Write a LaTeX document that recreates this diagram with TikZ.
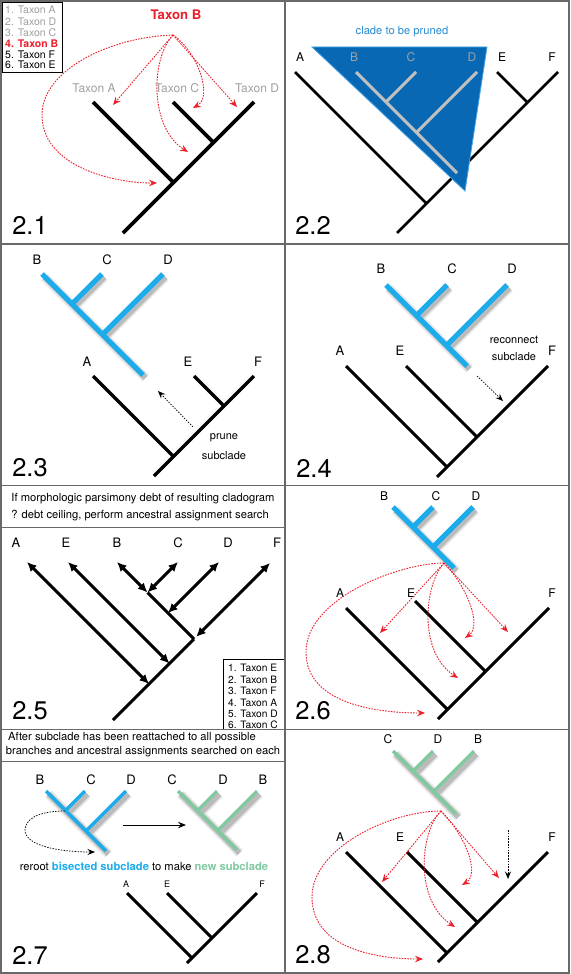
\documentclass[tikz,border=0pt]{standalone}
\usepackage{fontspec}
\setmainfont{TeX Gyre Heros}
\usetikzlibrary{arrows.meta}
\definecolor{framec}{RGB}{105,105,105}
\definecolor{redc}{RGB}{236,32,44}
\definecolor{cyanc}{RGB}{28,172,236}
\definecolor{greenc}{RGB}{128,202,160}
\definecolor{trifill}{RGB}{8,104,180}
\definecolor{triedge}{RGB}{70,165,232}
\definecolor{cladetxt}{RGB}{40,140,210}
\definecolor{graytxt}{RGB}{160,160,160}
\definecolor{graytree}{RGB}{192,192,192}
\newcommand\drawclade[7]{%
  \begin{scope}[transform canvas={shift={(2.5pt,-3pt)}}]
    \draw[shadeA] (#2)--(#3) (#4)--(#5) (#6)--(#7);
    \draw[shadeB] (#2)--(#3) (#4)--(#5) (#6)--(#7);
  \end{scope}
  \draw[#1] (#2)--(#3) (#4)--(#5) (#6)--(#7);}
\begin{document}
\begin{tikzpicture}[x=1pt,y=-1pt,
  frame/.style={draw=framec,line width=1.4pt},
  tree/.style={draw=black,line width=3pt},
  treethick/.style={draw=black,line width=3.8pt},
  bluetree/.style={draw=cyanc,line width=5pt},
  bluethin/.style={draw=cyanc,line width=3.2pt},
  greentree/.style={draw=greenc,line width=3.2pt},
  shadeA/.style={draw=black,opacity=0.10,line width=9pt},
  shadeB/.style={draw=black,opacity=0.18,line width=5.5pt},
  redarr/.style={draw=redc,line width=0.9pt,dash pattern=on 1.6pt off 1.2pt,
     -{Stealth[length=8pt,width=6.5pt,inset=2.8pt]}},
  blackarr/.style={draw=black,line width=0.7pt,dash pattern=on 1.5pt off 1.3pt,
     -{Stealth[length=7.5pt,width=6pt,inset=2.6pt]}},
  dblarr/.style={draw=black,line width=3pt,{Latex[length=9.5pt,width=9pt]}-{Latex[length=9.5pt,width=9pt]}},
  lab/.style={font=\fontsize{12}{14}\selectfont,inner sep=0pt},
  labL/.style={font=\fontsize{13}{15}\selectfont,inner sep=0pt},
  labS/.style={font=\fontsize{9}{11}\selectfont,inner sep=0pt},
  small/.style={font=\fontsize{11}{13}\selectfont,inner sep=0pt},
  leg/.style={font=\fontsize{10.5}{11}\selectfont,inner sep=0pt,anchor=west},
  num/.style={font=\fontsize{25.5}{28}\selectfont,inner sep=0pt},
  head/.style={font=\fontsize{11.2}{12}\selectfont,inner sep=0pt}]
\useasboundingbox (0,0) rectangle (570,974);
\fill[white] (0,0) rectangle (570,974);

% ================= Panel 2.1 =================
\coordinate (a1R) at (123,233); \coordinate (a1D) at (254,102);
\coordinate (a1At) at (93,102); \coordinate (a1An) at (173.5,182.5);
\coordinate (a1Ct) at (173,102); \coordinate (a1Cn) at (213.5,142.5);
\draw[treethick] (a1R)--(a1D) (a1At)--(a1An) (a1Ct)--(a1Cn);
\node[lab,text=graytxt] (a1lA) at (94,88) {Taxon A};
\node[lab,text=graytxt] (a1lC) at (177,88) {Taxon C};
\node[lab,text=graytxt] (a1lD) at (257,88) {Taxon D};
\node[font=\fontsize{13.2}{15}\selectfont\bfseries,text=redc,inner sep=0pt] (a1B) at (176,15) {Taxon B};
\coordinate (a1S) at (173,35);
\coordinate (a1e1) at (113,105); \coordinate (a1e2) at (237,107);
\coordinate (a1e3) at (188,152); \coordinate (a1e4) at (193,108);
\coordinate (a1e5) at (157,183); \coordinate (a1m) at (42,115);
\draw[redarr] (a1S)--(a1e1);
\draw[redarr] (a1S)--(a1e2);
\draw[redarr] (a1S) .. controls (150,60) and (150,128) .. (a1e3);
\draw[redarr] (a1S) .. controls (196,50) and (214,96) .. (a1e4);
\draw[redarr] (a1S) .. controls (110,37) and (42,70) .. (a1m) .. controls (42,165) and (110,183) .. (a1e5);
\draw[draw=black,line width=0.9pt,fill=white] (2,2) rectangle (62,72);
\node[leg,text=graytxt] (a1g1) at (5,10) {1. Taxon A};
\node[leg,text=graytxt] (a1g2) at (5,21.5) {2. Taxon D};
\node[leg,text=graytxt] (a1g3) at (5,33) {3. Taxon C};
\node[leg,text=redc,font=\fontsize{10.5}{11}\selectfont\bfseries] (a1g4) at (5,44) {4. Taxon B};
\node[leg] (a1g5) at (5,54.5) {5. Taxon F};
\node[leg] (a1g6) at (5,65) {6. Taxon E};
\node[num] (n21) at (30,225) {2.1};

% ================= Panel 2.2 =================
\node[font=\fontsize{11.2}{13}\selectfont,text=cladetxt,inner sep=0pt] (a2t) at (402,32) {clade to be pruned};
\coordinate (a2R) at (397,233); \coordinate (a2F) at (558,72);
\coordinate (a2At) at (295,72); \coordinate (a2An) at (426.5,203.5);
\coordinate (a2Et) at (497,72); \coordinate (a2En) at (527.5,102.5);
\draw[tree,line width=2.6pt] (a2R)--(a2F) (a2At)--(a2An) (a2Et)--(a2En);
\coordinate (a2T1) at (312,47); \coordinate (a2T2) at (487,47); \coordinate (a2T3) at (465,191);
\fill[trifill,draw=triedge,line width=0.8pt] (a2T1)--(a2T2)--(a2T3)--cycle;
\coordinate (a2Bt) at (356,72); \coordinate (a2Be) at (457,173);
\coordinate (a2Ct) at (416,72); \coordinate (a2Cn) at (386,102);
\coordinate (a2Dt) at (477,72); \coordinate (a2Dn) at (416.5,132.5);
\draw[draw=graytree,line width=3pt] (a2Bt)--(a2Be) (a2Ct)--(a2Cn) (a2Dt)--(a2Dn);
\node[lab] (a2lA) at (300,57) {A};
\node[lab,text=graytxt] (a2lB) at (354,57) {B};
\node[lab,text=graytxt] (a2lC) at (411,57) {C};
\node[lab,text=graytxt] (a2lD) at (472,57) {D};
\node[lab] (a2lE) at (502,57) {E};
\node[lab] (a2lF) at (552,57) {F};
\node[num] (n22) at (313,225) {2.2};

% ================= Panel 2.3 =================
\coordinate (a3Bt) at (42,274); \coordinate (a3Be) at (143,375);
\coordinate (a3Ct) at (102,274); \coordinate (a3Cn) at (72,304);
\coordinate (a3Dt) at (163,274); \coordinate (a3Dn) at (102.5,334.5);
\drawclade{bluetree}{a3Bt}{a3Be}{a3Ct}{a3Cn}{a3Dt}{a3Dn}
\node[labL] (a3lB) at (37,260) {B};
\node[labL] (a3lC) at (107,260) {C};
\node[labL] (a3lD) at (168,260) {D};
\coordinate (a3R) at (154,476); \coordinate (a3F) at (254,376);
\coordinate (a3At) at (93,376); \coordinate (a3An) at (173.5,456.5);
\coordinate (a3Et) at (194,376); \coordinate (a3En) at (224,406);
\draw[tree,line width=3.2pt] (a3R)--(a3F) (a3At)--(a3An) (a3Et)--(a3En);
\node[labL] (a3lA) at (87,362) {A};
\node[labL] (a3lE) at (188,362) {E};
\node[labL] (a3lF) at (258,362) {F};
\coordinate (a3s) at (193,427); \coordinate (a3e) at (158,391);
\draw[blackarr] (a3s)--(a3e);
\node[small] (a3p1) at (224,438) {prune};
\node[small] (a3p2) at (224,456) {subclade};
\node[num] (n23) at (30,468) {2.3};

% ================= Panel 2.4 =================
\coordinate (a4Bt) at (386,285); \coordinate (a4Be) at (467,366);
\coordinate (a4Ct) at (447,285); \coordinate (a4Cn) at (416.5,315.5);
\coordinate (a4Dt) at (507,285); \coordinate (a4Dn) at (446.5,345.5);
\drawclade{bluetree}{a4Bt}{a4Be}{a4Ct}{a4Cn}{a4Dt}{a4Dn}
\node[labL] (a4lB) at (381,269) {B};
\node[labL] (a4lC) at (452,269) {C};
\node[labL] (a4lD) at (512,269) {D};
\coordinate (a4R) at (437,477); \coordinate (a4F) at (548,366);
\coordinate (a4At) at (346,366); \coordinate (a4An) at (447,467);
\coordinate (a4Et) at (406,366); \coordinate (a4En) at (477,437);
\draw[tree] (a4R)--(a4F) (a4At)--(a4An) (a4Et)--(a4En);
\node[labL] (a4lA) at (340,351) {A};
\node[labL] (a4lE) at (400,351) {E};
\node[labL] (a4lF) at (552,351) {F};
\node[small] (a4r1) at (514,340) {reconnect};
\node[small] (a4r2) at (514,357) {subclade};
\coordinate (a4s) at (477,376); \coordinate (a4e) at (503,401);
\draw[blackarr] (a4s)--(a4e);
\node[num] (n24) at (314,468) {2.4};

% ================= Panel 2.5 =================
\node[head] (a5h1) at (143,499) {If morphologic parsimony debt of resulting cladogram};
\node[head] (a5h2) at (140,516) {? debt ceiling, perform ancestral assignment search};
\node[labL] (a5lA) at (16,543) {A};
\node[labL] (a5lE) at (66,543) {E};
\node[labL] (a5lB) at (117,543) {B};
\node[labL] (a5lC) at (178,543) {C};
\node[labL] (a5lD) at (228,543) {D};
\node[labL] (a5lF) at (277,543) {F};
\coordinate (a5R) at (113,720); \coordinate (a5N1) at (194,639);
\coordinate (a5BC) at (147.5,592.5);
\coordinate (a5At) at (27,562); \coordinate (a5An) at (149,684);
\coordinate (a5Et) at (68,562); \coordinate (a5En) at (169.5,663.5);
\coordinate (a5Bt) at (117,562); \coordinate (a5Ct) at (178,562);
\coordinate (a5Dt) at (219,562); \coordinate (a5Dn) at (168,613);
\coordinate (a5Ft) at (270,563);
\draw[tree] (a5R)--(a5N1) (a5BC)--(a5N1);
\draw[dblarr] (a5At)--(a5An);
\draw[dblarr] (a5Et)--(a5En);
\draw[dblarr] (a5Bt)--(a5BC);
\draw[dblarr] (a5Ct)--(a5BC);
\draw[dblarr] (a5Dt)--(a5Dn);
\draw[dblarr,shorten >=3pt] (a5Ft)--(a5N1);
\draw[draw=black,line width=0.9pt] (223,659) rectangle (285,729);
\node[leg,font=\fontsize{10.2}{11}\selectfont] (a5g1) at (228,668) {1. Taxon E};
\node[leg,font=\fontsize{10.2}{11}\selectfont] (a5g2) at (228,679.5) {2. Taxon B};
\node[leg,font=\fontsize{10.2}{11}\selectfont] (a5g3) at (228,691) {3. Taxon F};
\node[leg,font=\fontsize{10.2}{11}\selectfont] (a5g4) at (228,702.5) {4. Taxon A};
\node[leg,font=\fontsize{10.2}{11}\selectfont] (a5g5) at (228,714) {5. Taxon D};
\node[leg,font=\fontsize{10.2}{11}\selectfont] (a5g6) at (228,725) {6. Taxon C};
\node[num] (n25) at (30,711) {2.5};

% ================= Panel 2.6 =================
\coordinate (a6Bt) at (393,507); \coordinate (a6Be) at (454,568);
\coordinate (a6Ct) at (433,507); \coordinate (a6Cn) at (413,527);
\coordinate (a6Dt) at (473,507); \coordinate (a6Dn) at (433,547);
\drawclade{bluetree}{a6Bt}{a6Be}{a6Ct}{a6Cn}{a6Dt}{a6Dn}
\node[lab] (a6lB) at (384,496) {B};
\node[lab] (a6lC) at (436,496) {C};
\node[lab] (a6lD) at (476,496) {D};
\coordinate (a6R) at (438,719); \coordinate (a6F) at (549,608);
\coordinate (a6At) at (346,608); \coordinate (a6An) at (447.5,709.5);
\coordinate (a6Et) at (415,601); \coordinate (a6En) at (485.5,671.5);
\draw[tree] (a6R)--(a6F) (a6At)--(a6An) (a6Et)--(a6En);
\node[lab] (a6lA) at (340,593) {A};
\node[lab] (a6lE) at (411,593) {E};
\node[lab] (a6lF) at (552,593) {F};
\coordinate (a6S) at (444,563);
\coordinate (a6e1) at (380,633); \coordinate (a6e2) at (508,632);
\coordinate (a6e3) at (465,638); \coordinate (a6e4) at (458,678);
\coordinate (a6m) at (306,652); \coordinate (a6e5) at (425,713);
\draw[redarr] (a6S)--(a6e1);
\draw[redarr] (a6S)--(a6e2);
\draw[redarr] (a6S) .. controls (468,588) and (482,626) .. (a6e3);
\draw[redarr] (a6S) .. controls (424,585) and (418,652) .. (a6e4);
\draw[redarr] (a6S) .. controls (400,563) and (306,598) .. (a6m) .. controls (306,705) and (380,713) .. (a6e5);
\node[num] (n26) at (313,711) {2.6};

% ================= Panel 2.7 =================
\node[head] (a7h1) at (132,738) {After subclade has been reattached to all possible};
\node[head] (a7h2) at (143,752) {branches and ancestral assignments searched on each};
\coordinate (a7Bt) at (46,791); \coordinate (a7Be) at (106,851);
\coordinate (a7Ct) at (85,791); \coordinate (a7Cn) at (65.5,810.5);
\coordinate (a7Dt) at (126,791); \coordinate (a7Dn) at (86,831);
\drawclade{bluethin}{a7Bt}{a7Be}{a7Ct}{a7Cn}{a7Dt}{a7Dn}
\node[labL] (a7lB) at (40,780) {B};
\node[labL] (a7lC) at (91,780) {C};
\node[labL] (a7lD) at (131,780) {D};
\coordinate (a7gCt) at (178,791); \coordinate (a7gCe) at (237,850);
\coordinate (a7gDt) at (217,791); \coordinate (a7gDn) at (197.5,810.5);
\coordinate (a7gBt) at (257,791); \coordinate (a7gBn) at (217.5,830.5);
\drawclade{greentree}{a7gCt}{a7gCe}{a7gDt}{a7gDn}{a7gBt}{a7gBn}
\node[labL] (a7glC) at (172,780) {C};
\node[labL] (a7glD) at (223,780) {D};
\node[labL] (a7glB) at (263,780) {B};
\coordinate (a7as) at (123,825); \coordinate (a7ae) at (186,825);
\draw[draw=black,line width=0.9pt,-{Stealth[length=8pt,width=6.5pt,inset=2.8pt]}] (a7as)--(a7ae);
\coordinate (a7ls) at (65,811); \coordinate (a7lm) at (25,830); \coordinate (a7le) at (95,852);
\draw[blackarr] (a7ls) .. controls (35,811) and (25,821) .. (a7lm) .. controls (25,846) and (60,852) .. (a7le);
\node[font=\fontsize{11.2}{13}\selectfont,inner sep=0pt] (a7t) at (144,866)
  {reroot {\color{cyanc}\bfseries bisected subclade} to make {\color{greenc}\bfseries new subclade}};
\coordinate (a7R) at (187,963); \coordinate (a7F) at (257,893);
\coordinate (a7At) at (127,893); \coordinate (a7An) at (192,958);
\coordinate (a7Et) at (167,893); \coordinate (a7En) at (212,938);
\draw[tree] (a7R)--(a7F) (a7At)--(a7An) (a7Et)--(a7En);
\node[labS] (a7lA) at (126,884) {A};
\node[labS] (a7lE) at (167,884) {E};
\node[labS] (a7lF) at (262,884) {F};
\node[num] (n27) at (30,955) {2.7};

% ================= Panel 2.8 =================
\coordinate (a8Ct) at (393,751); \coordinate (a8Ce) at (456,814);
\coordinate (a8Dt) at (433,751); \coordinate (a8Dn) at (413,771);
\coordinate (a8Bt) at (474,751); \coordinate (a8Bn) at (433.5,791.5);
\drawclade{greentree}{a8Ct}{a8Ce}{a8Dt}{a8Dn}{a8Bt}{a8Bn}
\node[lab] (a8lC) at (388,739) {C};
\node[lab] (a8lD) at (438,739) {D};
\node[lab] (a8lB) at (478,739) {B};
\coordinate (a8R) at (438,962); \coordinate (a8F) at (548,852);
\coordinate (a8At) at (346,852); \coordinate (a8An) at (447,953);
\coordinate (a8Et) at (407,852); \coordinate (a8En) at (477.5,922.5);
\draw[tree] (a8R)--(a8F) (a8At)--(a8An) (a8Et)--(a8En);
\node[lab] (a8lA) at (340,837) {A};
\node[lab] (a8lE) at (400,837) {E};
\node[lab] (a8lF) at (552,837) {F};
\coordinate (a8S) at (441,811);
\coordinate (a8e1) at (382,882); \coordinate (a8e2) at (499,878);
\coordinate (a8e3) at (462,885); \coordinate (a8e4) at (455,927);
\coordinate (a8m) at (312,897); \coordinate (a8e5) at (423,959);
\draw[redarr] (a8S)--(a8e1);
\draw[redarr] (a8S)--(a8e2);
\draw[redarr] (a8S) .. controls (466,836) and (480,874) .. (a8e3);
\draw[redarr] (a8S) .. controls (420,832) and (414,900) .. (a8e4);
\draw[redarr] (a8S) .. controls (390,811) and (312,848) .. (a8m) .. controls (312,950) and (380,959) .. (a8e5);
\coordinate (a8vs) at (508,830); \coordinate (a8ve) at (508,879);
\draw[blackarr] (a8vs)--(a8ve);
\node[num] (n28) at (313,955) {2.8};

% ================= Frame =================
\draw[frame] (285,0)--(285,974);
\draw[frame] (0,244)--(570,244);
\draw[frame] (0,485.5)--(570,485.5);
\draw[frame] (0,729.5)--(570,729.5);
\draw[frame,line width=1pt] (0,527)--(285,527);
\draw[frame,line width=1pt] (0,761)--(285,761);
\draw[frame,line width=2pt] (1,1) rectangle (569,973);
\end{tikzpicture}
\end{document}
